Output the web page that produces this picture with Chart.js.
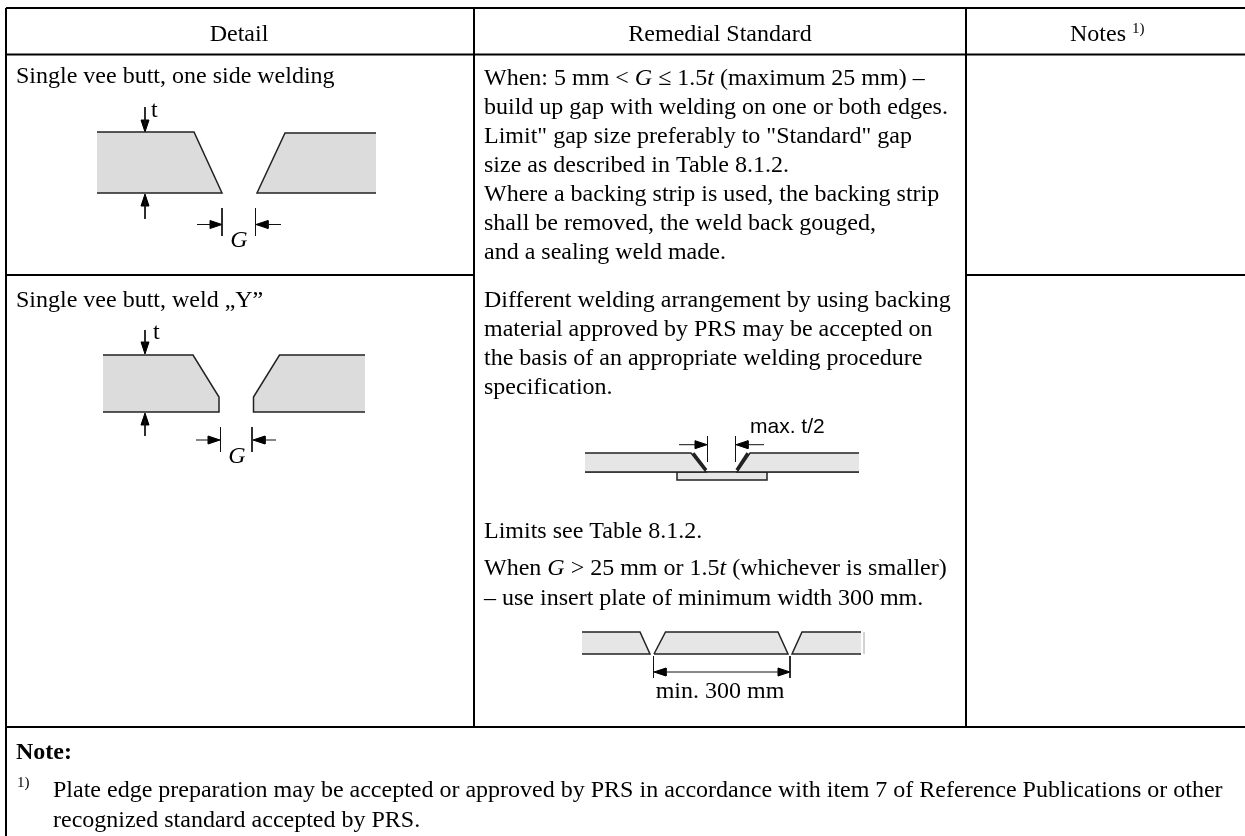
<!DOCTYPE html>
<html><head><meta charset="utf-8">
<style>html,body{margin:0;padding:0;background:#fff}canvas{display:block}</style>
<script src="https://cdn.jsdelivr.net/npm/chart.js@4/dist/chart.umd.min.js"></script>
</head><body><canvas id="c" width="1245" height="836"></canvas>
<script>
// Table rules, in drawing units
const ruleLines = [
  [[6,8],[1245,8]], [[6,54.5],[1245,54.5]], [[6,8],[6,836]],
  [[474,8],[474,727]], [[966,8],[966,727]],
  [[6,275],[474,275]], [[966,275],[1245,275]], [[6,727],[1245,727]]
];
// Plate outlines
const plateA1 = [[97,132],[194,132],[222,193],[97,193]];
const plateA2 = [[376,133],[285,133],[257,193],[376,193]];
const plateB1 = [[103,355],[193,355],[219,397],[219,412],[103,412]];
const plateB2 = [[365,355],[279.5,355],[253.5,397],[253.5,412],[365,412]];
const backL = [[585,453],[691,453],[706,472],[585,472]];
const backR = [[859,453],[750,453],[737,472],[859,472]];
const strip = [[677,472],[677,480],[767,480],[767,472],[677,472]];
const insL = [[582,632],[640,632],[650,654],[582,654]];
const insM = [[654,654],[665.5,632],[778,632],[788,654],[654,654]];
const insR = [[861,632],[802,632],[792,654],[861,654]];
// Thin lines
const thinLines = [
  [[145,107],[145,125]], [[145,200],[145,219]],
  [[222,208],[222,236]], [[255.5,208],[255.5,236]], [[197,224.5],[212,224.5]], [[266,224.5],[281,224.5]],
  [[145,330],[145,345]], [[145,420],[145,436]],
  [[220.5,427],[220.5,452]], [[252,427],[252,452]], [[196,440],[210,440]], [[263,440],[276,440]],
  [[653.5,656],[653.5,678]], [[790,656],[790,678]], [[660,672],[784,672]],
  [[707.5,436],[707.5,462]], [[735.5,436],[735.5,462]], [[679,444.7],[698,444.7]], [[746,444.7],[764,444.7]],
  [[585,472],[859,472]]
];
const paleLines = [[[864,632],[864,654]]];
// Weld beads
const weldBeads = [[[692,454],[705,471]],[[749,454],[738,471]]];
// Arrow heads: tip then direction
const heads = [
  [145,132,0,1],[145,194,0,-1],[222,224.5,1,0],[256,224.5,-1,0],
  [145,354,0,1],[145,413,0,-1],[220,440,1,0],[253,440,-1,0],
  [654,672,-1,0],[790,672,1,0],[707,444.7,1,0],[736,444.7,-1,0]
];
const serif = '"Liberation Serif"';
// Text runs: x, baseline, string, size, flags
const textRuns = [
  [239,41,'Detail',24,'c'],[720,41,'Remedial Standard',24,'c'],[1070,41,'Notes',24,''],[1132,33,'1)',15,''],
  [16,83,'Single vee butt, one side welding',24,''],[16,307,'Single vee butt, weld \u201EY\u201D',24,''],
  [151,117,'t',24,''],[153,339,'t',24,''],[239,247,'G',24,'ci'],[237,463,'G',24,'ci'],
  [484,114,'build up gap with welding on one or both edges.',24,''],
  [484,143,'Limit" gap size preferably to "Standard" gap',24,''],[484,172,'size as described in Table 8.1.2.',24,''],
  [484,201,'Where a backing strip is used, the backing strip',24,''],[484,230,'shall be removed, the weld back gouged,',24,''],
  [484,259,'and a sealing weld made.',24,''],
  [484,307,'Different welding arrangement by using backing',24,''],[484,336,'material approved by PRS may be accepted on',24,''],
  [484,365,'the basis of an appropriate welding procedure',24,''],[484,394,'specification.',24,''],
  [484,538,'Limits see Table 8.1.2.',24,''],
  [484,605,'\u2013 use insert plate of minimum width 300 mm.',24,''],
  [720,698,'min. 300 mm',24,'c'],
  [16,759,'Note:',24,'b'],[17,787,'1)',15,''],
  [53,797,'Plate edge preparation may be accepted or approved by PRS in accordance with item 7 of Reference Publications or other',24,''],
  [53,827,'recognized standard accepted by PRS.',24,'']
];
// Mixed-style runs: x, baseline, [text, italic]...
const mixedRuns = [
  [484,85,[['When: 5 mm < ',0],['G',1],[' \u2264 1.5',0],['t',1],[' (maximum 25 mm) \u2013',0]],24],
  [484,575,[['When ',0],['G',1],[' > 25 mm or 1.5',0],['t',1],[' (whichever is smaller)',0]],24]
];
const armLabel = [[750,433,'max. t/2',21]];

const line = (pts,w,c,extra)=>Object.assign({data:pts.map(p=>({x:p[0],y:p[1]})),showLine:true,borderColor:c,borderWidth:w,pointRadius:0,tension:0,fill:false,borderCapStyle:'butt'},extra||{});
const plate = (pts,bg)=>line(pts,1.5,'#222',{fill:'shape',backgroundColor:bg});
const headPoly = h=>{const [x,y,dx,dy]=h,L=12,W=4;return [[x,y],[x-dx*L+dy*W,y-dy*L+dx*W],[x-dx*L-dy*W,y-dy*L-dx*W],[x,y]];};
const datasets = [
  ...[plateA1,plateA2,plateB1,plateB2].map(p=>plate(p,'#dcdcdc')),
  ...[backL,backR,strip,insL,insM,insR].map(p=>plate(p,'#e6e6e6')),
  ...thinLines.map(p=>line(p,1,'#111')),
  ...paleLines.map(p=>line(p,1,'#ccc')),
  ...weldBeads.map(p=>line(p,6,'#222')),
  ...weldBeads.map(p=>line(p,4,'#fff',{borderDash:[3,2]})),
  ...heads.map(h=>line(headPoly(h),1,'#000',{fill:'shape',backgroundColor:'#000'})),
  ...ruleLines.map(p=>line(p,2,'#000'))
];
const textPlugin = {id:'tableText',afterDatasetsDraw(ch){
  const c=ch.ctx,X=ch.scales.x,Y=ch.scales.y;
  c.save();c.fillStyle='#000';c.textBaseline='alphabetic';
  for(const [x,y,s,size,f] of textRuns){
    c.font=(f.includes('i')?'italic ':'')+(f.includes('b')?'bold ':'')+size+'px '+serif;
    c.textAlign=f.includes('c')?'center':'left';
    c.fillText(s,X.getPixelForValue(x),Y.getPixelForValue(y));
  }
  c.textAlign='left';
  for(const [x,y,parts,size] of mixedRuns){
    let px=X.getPixelForValue(x);
    for(const [s,it] of parts){c.font=(it?'italic ':'')+size+'px '+serif;c.fillText(s,px,Y.getPixelForValue(y));px+=c.measureText(s).width;}
  }
  for(const [x,y,s,size] of armLabel){c.font=size+'px "Liberation Sans"';c.fillText(s,X.getPixelForValue(x),Y.getPixelForValue(y));}
  c.restore();
}};
new Chart(document.getElementById('c'),{type:'scatter',data:{datasets},plugins:[textPlugin],options:{
  responsive:false,animation:false,layout:{padding:0},
  plugins:{legend:{display:false},tooltip:{enabled:false},title:{display:false}},
  scales:{x:{type:'linear',min:0,max:1245,display:false},y:{type:'linear',min:0,max:836,reverse:true,display:false}}
}});
</script></body></html>
